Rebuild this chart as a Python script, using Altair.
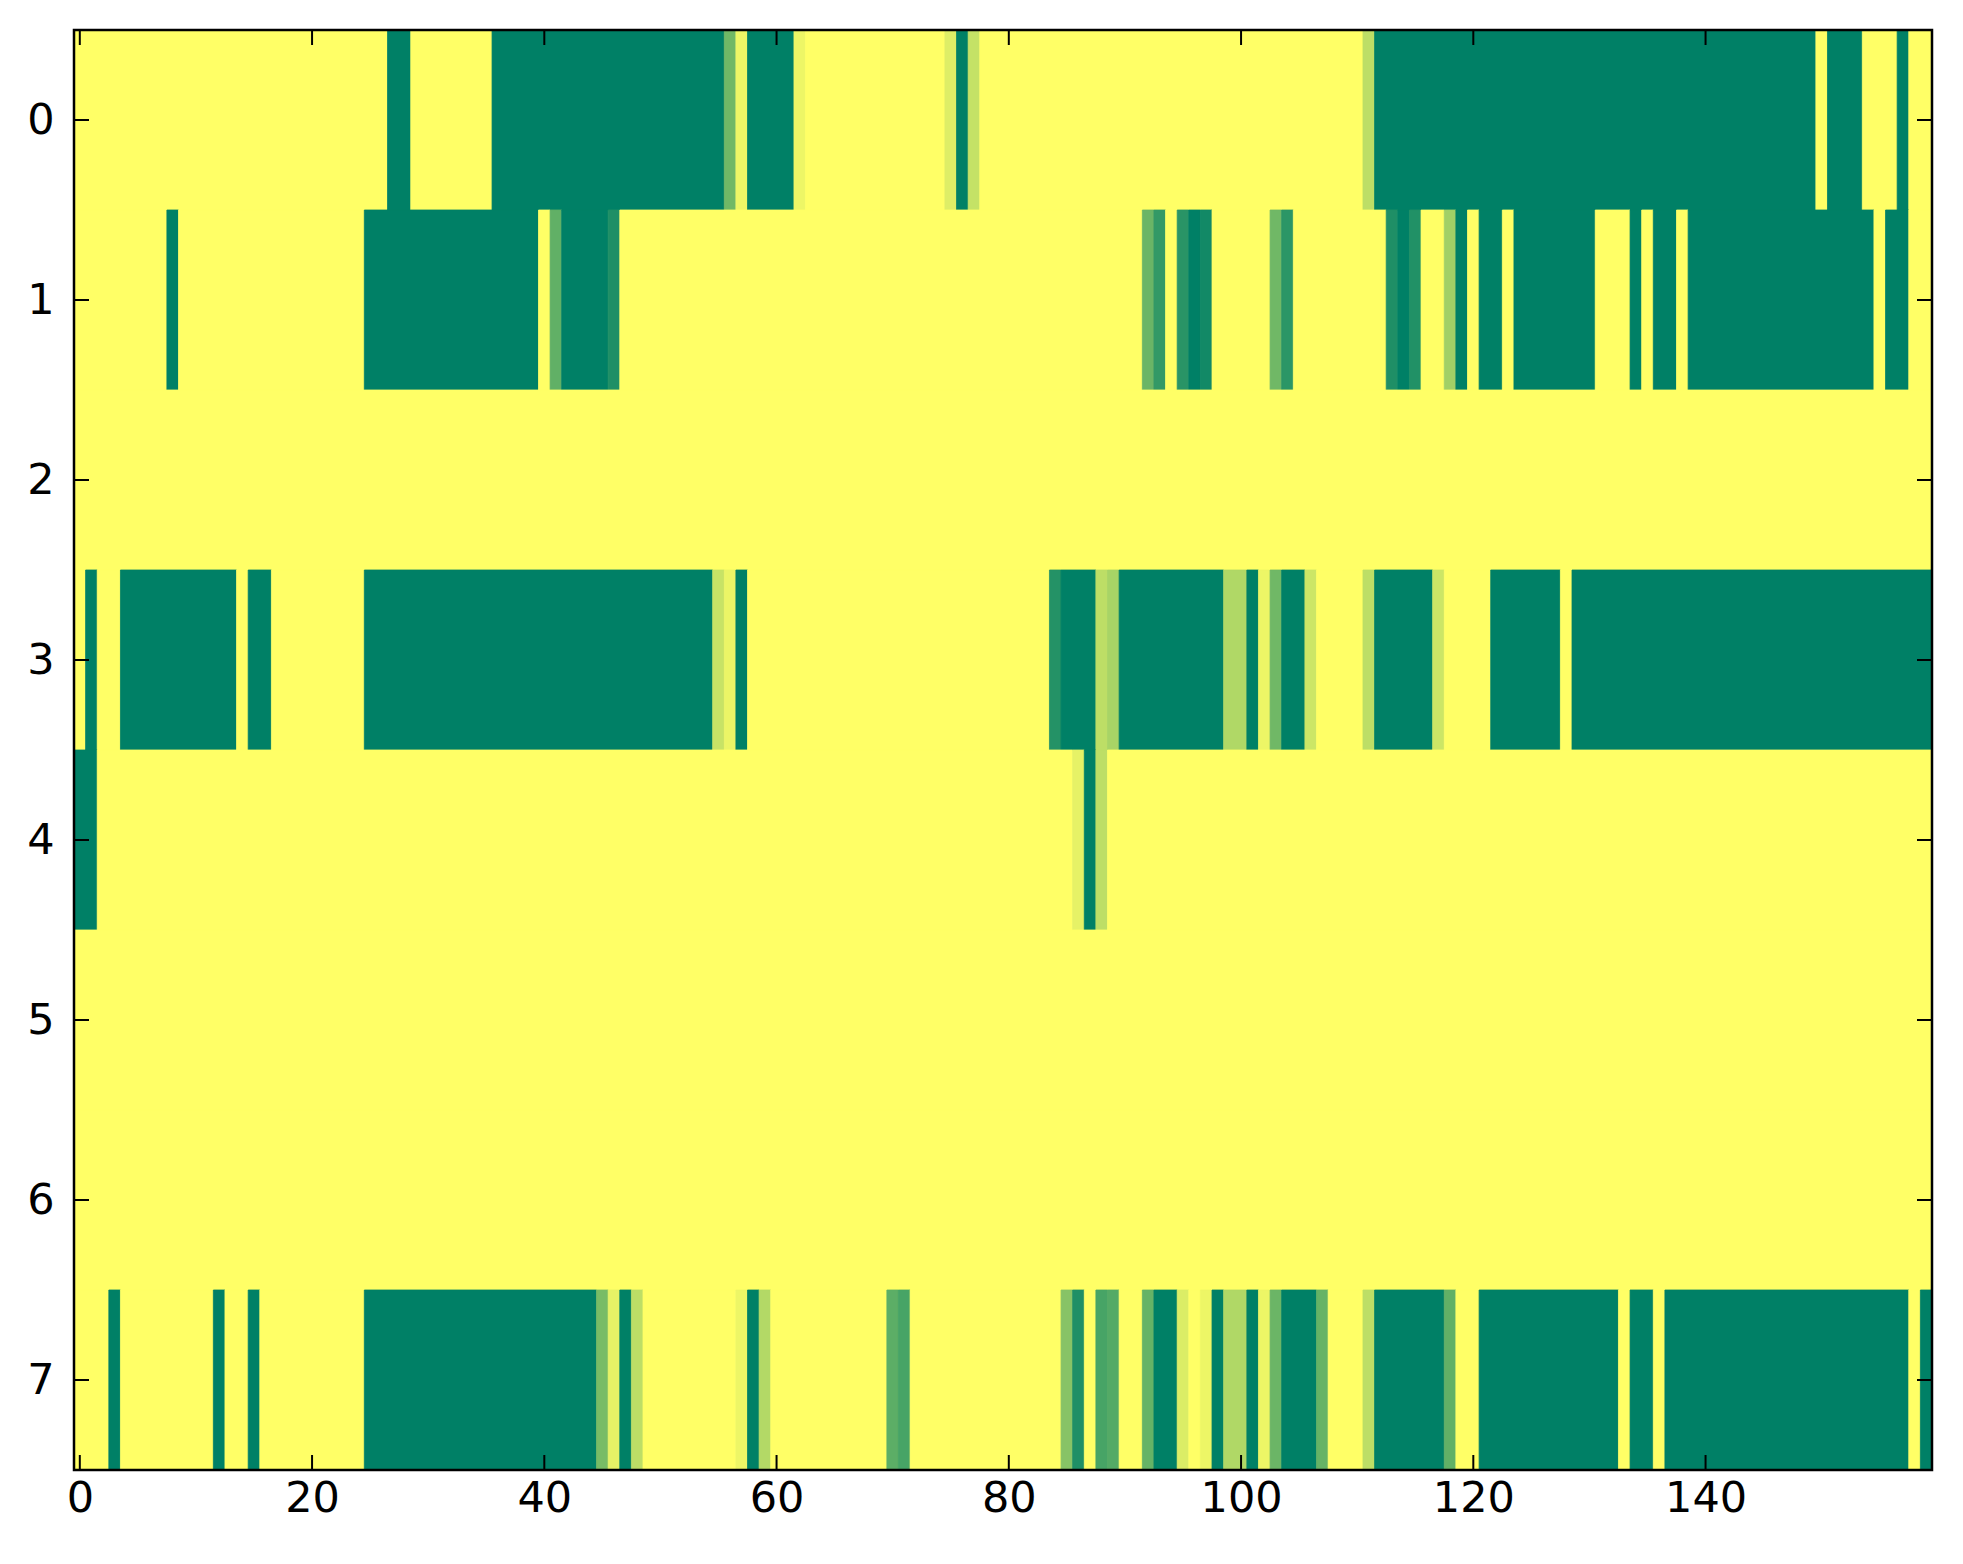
import altair as alt
import pandas as pd

# Each row: runs of (first_column, last_column, value)
row0 = [(0,26,0),(27,28,1),(29,35,0),(36,55,1),(56,56,.56),(57,57,.07),(58,61,1),(62,62,.07),
        (63,74,0),(75,75,.13),(76,76,1),(77,77,.23),(78,110,0),(111,111,.26),(112,149,1),
        (150,150,0),(151,153,1),(154,156,0),(157,157,1),(158,159,0)]
row1 = [(0,7,0),(8,8,1),(9,24,0),(25,39,1),(40,40,0),(41,41,.62),(42,45,1),(46,46,.88),
        (47,91,0),(92,92,.58),(93,93,.8),(94,94,0),(95,95,.84),(96,96,1),(97,97,.93),
        (98,102,0),(103,103,.56),(104,104,.83),(105,112,0),(113,113,.88),(114,114,1),
        (115,115,.87),(116,117,0),(118,118,.37),(119,119,1),(120,120,0),(121,122,1),
        (123,123,0),(124,130,1),(131,133,0),(134,134,1),(135,135,0),(136,137,1),
        (138,138,0),(139,154,1),(155,155,0),(156,157,1),(158,159,0)]
row2 = [(0,159,0)]
row3 = [(0,0,0),(1,1,1),(2,3,0),(4,13,1),(14,14,0),(15,16,1),(17,24,0),(25,54,1),
        (55,55,.22),(56,56,.08),(57,57,1),(58,83,0),(84,84,.86),(85,87,1),(88,88,.26),
        (89,89,.34),(90,98,1),(99,100,.31),(101,101,1),(102,102,.07),(103,103,.56),
        (104,105,1),(106,106,.2),(107,110,0),(111,111,.26),(112,116,1),(117,117,.2),
        (118,121,0),(122,127,1),(128,128,0),(129,159,1)]
row4 = [(0,1,1),(2,85,0),(86,86,.1),(87,87,1),(88,88,.26),(89,159,0)]
row5 = [(0,159,0)]
row6 = [(0,159,0)]
row7 = [(0,2,0),(3,3,1),(4,11,0),(12,12,1),(13,14,0),(15,15,1),(16,24,0),(25,44,1),
        (45,45,.53),(46,46,.1),(47,47,1),(48,48,.26),(49,56,0),(57,57,.07),(58,58,1),
        (59,59,.3),(60,69,0),(70,70,.64),(71,71,.72),(72,84,0),(85,85,.47),(86,86,.88),
        (87,87,0),(88,88,.72),(89,89,.67),(90,91,0),(92,92,.6),(93,94,1),(95,95,.14),
        (96,96,0),(97,97,.07),(98,98,1),(99,100,.31),(101,101,1),(102,102,.07),
        (103,103,.58),(104,106,1),(107,107,.6),(108,110,0),(111,111,.26),(112,117,1),
        (118,118,.62),(119,120,0),(121,132,1),(133,133,0),(134,135,1),(136,136,0),
        (137,157,1),(158,158,0),(159,159,1)]

ROWS = [row0, row1, row2, row3, row4, row5, row6, row7]
X_TICKS = [0, 20, 40, 60, 80, 100, 120, 140]
Y_TICKS = [0, 1, 2, 3, 4, 5, 6, 7]
N_COLS = 160

records = []
for r, runs in enumerate(ROWS):
    for first, last, v in runs:
        records.append({"x0": first - 0.5, "x1": last + 0.5,
                        "y0": r - 0.5, "y1": r + 0.5, "v": v})
df = pd.DataFrame(records)

W, H = 1858, 1440
TL = 15
FONT = "DejaVu Sans"
FS = 43

xscale = alt.Scale(domain=[-0.5, N_COLS - 0.5], nice=False, zero=False)
yscale = alt.Scale(domain=[-0.5, len(ROWS) - 0.5], nice=False, zero=False, reverse=True)
cscale = alt.Scale(domain=[0, 1], range=["#ffff66", "#008066"], interpolate="rgb")

xaxis = alt.Axis(values=X_TICKS, ticks=False, domain=False, grid=False, title=None,
                 labelFont=FONT, labelFontSize=FS, labelColor="black",
                 labelPadding=7, labelFlush=False)
yaxis = alt.Axis(values=Y_TICKS, ticks=False, domain=False, grid=False, title=None,
                 labelFont=FONT, labelFontSize=FS, labelColor="black",
                 labelPadding=20, labelFlush=False)

heat = alt.Chart(df).mark_rect(strokeWidth=0.8).encode(
    x=alt.X("x0:Q", scale=xscale, axis=xaxis),
    x2="x1:Q",
    y=alt.Y("y0:Q", scale=yscale, axis=yaxis),
    y2="y1:Q",
    color=alt.Color("v:Q", scale=cscale, legend=None),
    stroke=alt.Stroke("v:Q", scale=cscale, legend=None),
)

xt = pd.DataFrame({"t": X_TICKS})
yt = pd.DataFrame({"t": Y_TICKS})

tick_style = dict(color="black", strokeWidth=2)
bottom = alt.Chart(xt).mark_rule(**tick_style).encode(
    x=alt.X("t:Q", scale=xscale, axis=xaxis), y=alt.value(H), y2=alt.value(H - TL))
top = alt.Chart(xt).mark_rule(**tick_style).encode(
    x=alt.X("t:Q", scale=xscale, axis=xaxis), y=alt.value(0), y2=alt.value(TL))
left = alt.Chart(yt).mark_rule(**tick_style).encode(
    y=alt.Y("t:Q", scale=yscale, axis=yaxis), x=alt.value(0), x2=alt.value(TL))
right = alt.Chart(yt).mark_rule(**tick_style).encode(
    y=alt.Y("t:Q", scale=yscale, axis=yaxis), x=alt.value(W), x2=alt.value(W - TL))

frame = alt.Chart(pd.DataFrame({"a": [0]})).mark_rect(
    filled=False, stroke="black", strokeWidth=2.5).encode(
    x=alt.value(0), x2=alt.value(W), y=alt.value(0), y2=alt.value(H))

chart = alt.layer(heat, bottom, top, left, right, frame).properties(
    width=W, height=H,
    padding={"left": 18, "top": 20, "right": 12, "bottom": 8},
).configure_view(stroke=None)

chart.save("out.html", embed_options={"renderer": "svg", "actions": False})
